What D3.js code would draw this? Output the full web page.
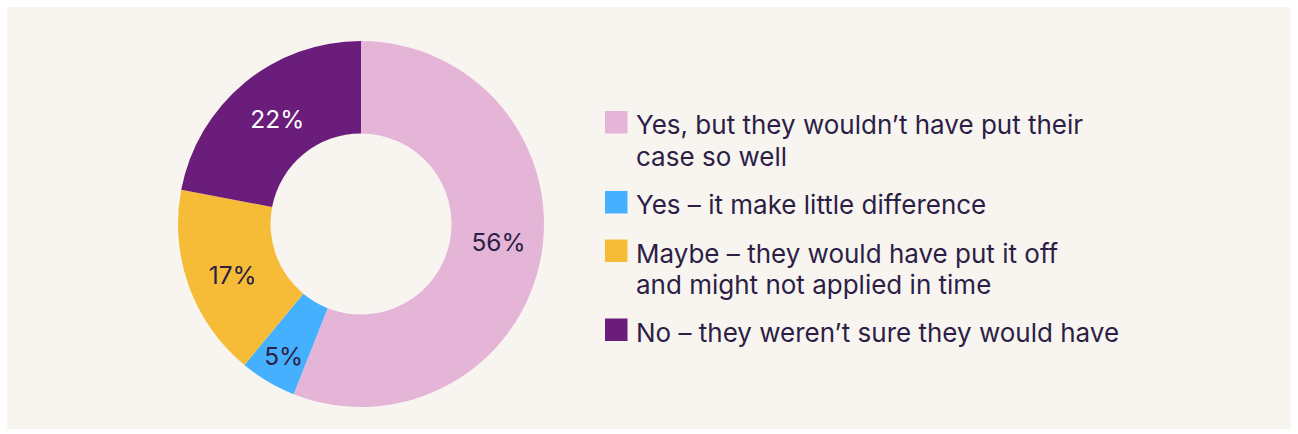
<!DOCTYPE html>
<html>
<head>
<meta charset="utf-8">
<script src="https://cdn.jsdelivr.net/npm/d3@7"></script>
<style>
  html, body { margin: 0; padding: 0; background: #ffffff; }
  svg { display: block; font-family: "Inter", "Noto Sans", sans-serif; }
</style>
</head>
<body>
<svg id="chart" width="1298" height="434"></svg>
<script>
// Survey answers, clockwise from 12 o'clock
const answers = [
  ["Yes, but they wouldn\u2019t have put their", "case so well"],
  ["Yes \u2013 it make little difference"],
  ["Maybe \u2013 they would have put it off", "and might not applied in time"],
  ["No \u2013 they weren\u2019t sure they would have"]
];
const shares = [56, 5, 17, 22];
const colours = ["#e5b5d8", "#45b0fd", "#f6bc38", "#6b1d7b"];
const labelColours = ["#2d1e45", "#2d1e45", "#2d1e45", "#ffffff"];

const width = 1298, height = 434;
const svg = d3.select("#chart");
const ink = "#2d1e45";

// panel background
svg.append("rect")
  .attr("x", 7).attr("y", 7)
  .attr("width", width - 14).attr("height", height - 12)
  .attr("fill", "#f8f5f0");

// --- donut ---
const cx = 361, cy = 224;
const outer = 183, inner = 90.5;

const pie = d3.pie().sort(null).value(d => d);
const arc = d3.arc().innerRadius(inner).outerRadius(outer);
const arcs = pie(shares);

// label placement: small slices get pushed outwards, plus a few nudges
const labelRadius = [138, 154, 138, 136];
const labelNudge = [[2, -8], [1, 0], [1.5, 4.5], [3, 0]];

const g = svg.append("g").attr("transform", `translate(${cx},${cy})`);

g.selectAll("path")
  .data(arcs)
  .join("path")
  .attr("d", arc)
  .attr("fill", (d, i) => colours[i]);

g.selectAll("text")
  .data(arcs)
  .join("text")
  .attr("transform", (d, i) => {
    const [x, y] = d3.arc().innerRadius(labelRadius[i]).outerRadius(labelRadius[i]).centroid(d);
    return `translate(${x + labelNudge[i][0]},${y + labelNudge[i][1]})`;
  })
  .attr("text-anchor", "middle")
  .attr("dy", "0.36em")
  .attr("font-size", 24.5)
  .attr("fill", (d, i) => labelColours[i])
  .text(d => d.data + "%");

// --- legend ---
const legendX = 605;
const rowTops = [111, 191, 239.5, 318.5];
const lineGap = 31.5;

const legend = svg.append("g");
const rows = legend.selectAll("g")
  .data(answers)
  .join("g")
  .attr("transform", (d, i) => `translate(${legendX},${rowTops[i]})`);

rows.append("rect")
  .attr("width", 22.5).attr("height", 22.5)
  .attr("fill", (d, i) => colours[i]);

rows.append("text")
  .attr("x", 31)
  .attr("font-size", 26)
  .attr("fill", ink)
  .selectAll("tspan")
  .data(d => d)
  .join("tspan")
  .attr("x", 31)
  .attr("y", (d, j) => 23.3 + j * lineGap)
  .text(d => d);
</script>
</body>
</html>
